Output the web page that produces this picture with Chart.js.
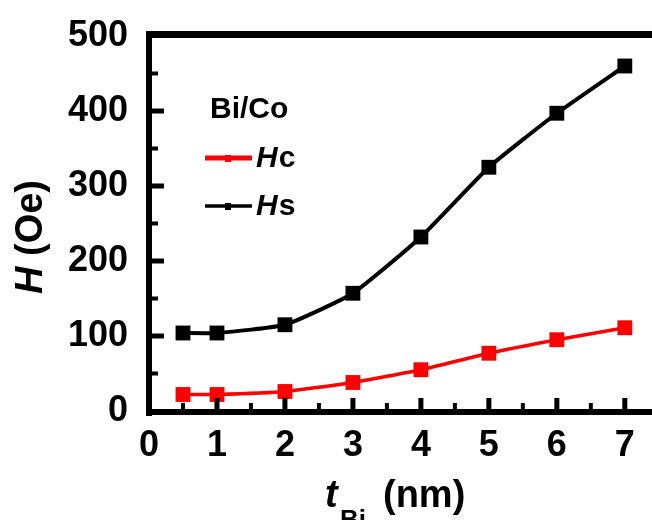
<!DOCTYPE html>
<html>
<head>
<meta charset="utf-8">
<script src="https://cdn.jsdelivr.net/npm/chart.js@4"></script>
<style>
  html, body { margin: 0; padding: 0; background: #fff; }
  #wrap { width: 652px; height: 520px; }
</style>
</head>
<body>
<div id="wrap"><canvas id="fig"></canvas></div>
<script>
// Bi/Co coercive and saturation field vs Bi thickness
const thickness = [0.5, 1, 2, 3, 4, 5, 6, 7];          // t_Bi (nm)
const hcValues = [22, 22, 26, 38, 55, 77, 95, 111];     // Hc (Oe)
const hsValues = [104, 104, 115, 157, 232, 325, 397, 460]; // Hs (Oe)
const xTicks = [0, 1, 2, 3, 4, 5, 6, 7];
const yTicks = [0, 100, 200, 300, 400, 500];

const FONT = '"Liberation Sans", Arial, sans-serif';
Chart.defaults.font.family = FONT;
Chart.defaults.color = '#000';

const pts = (ys) => thickness.map((x, i) => ({ x, y: ys[i] }));

// frame + inward ticks, drawn over the lines like the original plot
const frame = {
  id: 'frame',
  afterDatasetsDraw(chart) {
    const { ctx, chartArea: a, scales: { x, y } } = chart;
    ctx.save();
    ctx.fillStyle = '#000';
    ctx.fillRect(a.left - 3, a.top - 5, 6, a.bottom - a.top + 10);
    ctx.fillRect(a.left - 3, a.bottom - 2, a.right - a.left + 3, 6);
    ctx.fillRect(a.left - 3, a.top - 5, a.right - a.left + 3, 7);

    xTicks.forEach(v => {
      if (v > x.min) {
        const px = x.getPixelForValue(v);
        ctx.fillRect(px - 2.5, a.bottom - 13, 5, 12);
      }
      const m = v + 0.5;
      if (m < x.max) {
        const pm = x.getPixelForValue(m);
        ctx.fillRect(pm - 2, a.bottom - 8, 4, 7);
      }
    });
    yTicks.forEach(v => {
      if (v > y.min && v < y.max) {
        const py = y.getPixelForValue(v);
        ctx.fillRect(a.left + 2, py - 2.5, 13, 5);
      }
      const m = v + 50;
      if (m < y.max) {
        const pm = y.getPixelForValue(m);
        ctx.fillRect(a.left + 2, pm - 2, 7, 4);
      }
    });
    ctx.restore();
  }
};

// axis titles and the in-plot legend
const labels = {
  id: 'labels',
  afterDraw(chart) {
    const ctx = chart.ctx;
    const bb = `bold 38px ${FONT}`;
    const it = `italic bold 38px ${FONT}`;
    ctx.save();
    ctx.fillStyle = '#000';
    ctx.textAlign = 'left';
    ctx.textBaseline = 'alphabetic';

    // y title: H (Oe)
    ctx.save();
    ctx.translate(42, 237);
    ctx.rotate(-Math.PI / 2);
    ctx.font = it;
    const w1 = ctx.measureText('H').width;
    ctx.font = bb;
    const w2 = ctx.measureText(' (Oe)').width;
    const sx = -(w1 + w2) / 2;
    ctx.font = it;
    ctx.fillText('H', sx, 0);
    ctx.font = bb;
    ctx.fillText(' (Oe)', sx + w1, 0);
    ctx.restore();

    // x title: t_Bi (nm)
    ctx.font = it;
    ctx.fillText('t', 325, 507);
    ctx.font = `bold 26px ${FONT}`;
    ctx.fillText('Bi', 340, 528);
    ctx.font = bb;
    ctx.fillText('(nm)', 383, 507);

    // legend
    ctx.font = `bold 30px ${FONT}`;
    ctx.fillText('Bi/Co', 210, 118);

    const entry = (color, lw, y, base, suffix) => {
      ctx.strokeStyle = color;
      ctx.fillStyle = color;
      ctx.lineWidth = lw;
      ctx.beginPath();
      ctx.moveTo(205, y);
      ctx.lineTo(252, y);
      ctx.stroke();
      ctx.fillRect(225, y - 3, 6, 7);
      ctx.fillStyle = '#000';
      ctx.font = `italic bold 30px ${FONT}`;
      ctx.fillText('H', 256, base);
      const hw = ctx.measureText('H').width;
      ctx.font = `bold 30px ${FONT}`;
      ctx.fillText(suffix, 256 + hw + 1, base);
    };
    entry('#ff0000', 5, 158, 167, 'c');
    entry('#000000', 3.5, 206, 215, 's');
    ctx.restore();
  }
};

new Chart(document.getElementById('fig'), {
  type: 'line',
  data: {
    datasets: [
      {
        label: 'Hs',
        data: pts(hsValues),
        borderColor: '#000',
        backgroundColor: '#000',
        borderWidth: 4,
        pointStyle: 'rect',
        pointRadius: 10.5,
        pointBorderWidth: 0,
        tension: 0.15,
      },
      {
        label: 'Hc',
        data: pts(hcValues),
        borderColor: '#ff0000',
        backgroundColor: '#ff0000',
        borderWidth: 3.5,
        pointStyle: 'rect',
        pointRadius: 10.5,
        pointBorderWidth: 0,
        tension: 0.15,
      },
    ],
  },
  options: {
    responsive: true,
    maintainAspectRatio: false,
    animation: false,
    layout: { autoPadding: false, padding: { top: 36, right: 0, left: 0, bottom: 0 } },
    plugins: { legend: { display: false }, tooltip: { enabled: false } },
    scales: {
      x: {
        type: 'linear',
        min: 0,
        max: 7.4,
        grid: { display: false, drawTicks: false },
        border: { display: false },
        afterFit: (s) => { s.height = 109; s.paddingLeft = 0; s.paddingRight = 0; },
        afterBuildTicks: (s) => { s.ticks = xTicks.map(v => ({ value: v })); },
        ticks: {
          autoSkip: false,
          padding: 13,
          maxRotation: 0,
          font: { size: 36, weight: 'bold' },
          color: '#000',
        },
      },
      y: {
        min: 0,
        max: 500,
        grid: { display: false, drawTicks: false },
        border: { display: false },
        afterFit: (s) => { s.width = 149; s.paddingTop = 0; s.paddingBottom = 0; },
        afterBuildTicks: (s) => { s.ticks = yTicks.map(v => ({ value: v })); },
        ticks: {
          autoSkip: false,
          padding: 21,
          font: { size: 36, weight: 'bold' },
          color: '#000',
        },
      },
    },
  },
  plugins: [frame, labels],
});
</script>
</body>
</html>
